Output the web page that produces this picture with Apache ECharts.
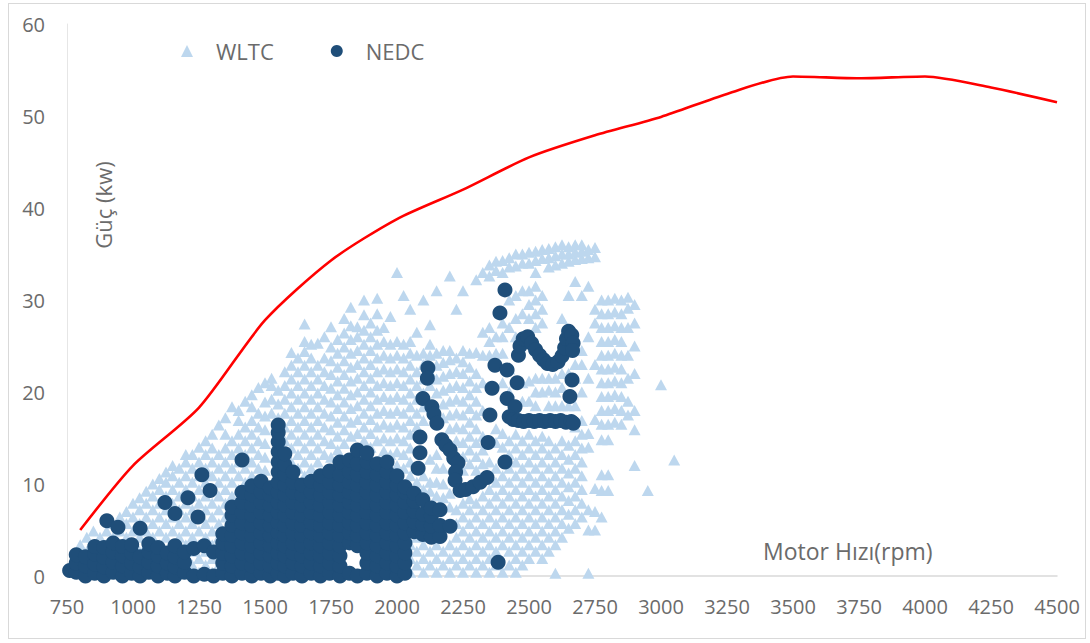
<!DOCTYPE html>
<html>
<head>
<meta charset="utf-8">
<script src="https://cdn.jsdelivr.net/npm/echarts@6/dist/echarts.min.js"></script>
<style>
  html, body { margin: 0; padding: 0; background: #fff; }
  #frame { position: absolute; left: 8px; top: 3px; width: 1078px; height: 636px; border: 1px solid #d9d9d9; box-sizing: border-box; }
  #chart { position: absolute; left: 0; top: 0; width: 1090px; height: 643px; }
</style>
</head>
<body>
<div id="frame"></div>
<div id="chart"></div>
<script>
// Full-load power curve of the engine (rpm, kW)
const maxPowerRpm = [800, 1000, 1250, 1500, 1750, 2000, 2250, 2500, 2750, 3000, 3250, 3500, 3750, 4000, 4250, 4500];
const maxPowerKw  = [5, 12, 18.3, 27.8, 34.3, 38.8, 42.0, 45.5, 47.9, 49.9, 52.4, 54.3, 54.1, 54.3, 53.1, 51.5];

// WLTC operating points, grouped by engine speed: [rpm, [kW, ...]]
const wltcColumns = [
  [800, [0.4, 1.9, 3.4]],
  [825, [1.2, 2.7, 4.2]],
  [850, [0.4, 1.9, 3.4, 4.9]],
  [875, [1.2, 2.7, 4.2]],
  [900, [0.4, 1.9, 3.4, 4.9]],
  [925, [1.2, 2.7, 4.2, 5.7]],
  [950, [0.4, 1.9, 3.4, 4.9, 6.4]],
  [975, [1.2, 2.7, 4.2, 5.7, 7.0]],
  [1000, [0.4, 1.9, 3.4, 4.9, 6.4, 7.9]],
  [1025, [1.2, 2.7, 4.2, 5.7, 7.2, 8.5]],
  [1050, [0.4, 1.9, 3.4, 4.9, 6.4, 7.9, 9.2]],
  [1075, [1.2, 2.7, 4.2, 5.7, 7.2, 8.7, 10]],
  [1100, [0.4, 1.9, 3.4, 4.9, 6.4, 7.9, 9.4, 10.6]],
  [1125, [1.2, 2.7, 4.2, 5.7, 7.2, 8.7, 10.2, 11.3]],
  [1150, [0.4, 1.9, 3.4, 4.9, 6.4, 7.9, 9.4, 10.9, 12]],
  [1175, [1.2, 2.7, 4.2, 5.7, 7.2, 8.7, 10.2, 11.7]],
  [1200, [0.4, 1.9, 3.4, 4.9, 6.4, 7.9, 9.4, 10.9, 12.4, 13.2]],
  [1225, [1.2, 2.7, 4.2, 5.7, 7.2, 8.7, 10.2, 11.7, 13.2]],
  [1250, [0.4, 1.9, 3.4, 4.9, 6.4, 7.9, 9.4, 10.9, 12.4, 14]],
  [1275, [1.2, 2.7, 4.2, 5.7, 7.2, 8.7, 10.2, 11.7, 13.2, 14.7]],
  [1300, [0.4, 1.9, 3.4, 4.9, 6.4, 7.9, 9.4, 10.9, 12.4, 13.9, 15.4]],
  [1325, [1.2, 2.7, 4.2, 5.7, 7.2, 8.7, 10.2, 11.7, 13.2, 16.4]],
  [1350, [6.4, 7.9, 9.4, 10.9, 12.4, 13.9, 15.4, 17.2]],
  [1375, [8.7, 10.2, 11.7, 13.2, 14.7, 18.4]],
  [1400, [9.4, 10.9, 12.4, 13.9, 15.4, 16.9, 18]],
  [1425, [10.2, 11.7, 13.2, 14.7, 16.2, 19]],
  [1450, [10.9, 12.4, 13.9, 15.4, 16.9, 18.4, 19.7]],
  [1475, [11.7, 13.2, 14.7, 16.2, 17.7, 20.5]],
  [1500, [11.5, 12.9, 14.4, 15.9, 17.4, 18.9, 21]],
  [1525, [17.7, 19.2, 20.7, 21.5]],
  [1550, [17.2, 18.7, 20.2]],
  [1575, [14.7, 16.2, 17.7, 19.2, 20.7, 22.2]],
  [1600, [12.4, 13.9, 15.4, 16.9, 18.4, 19.9, 21.4, 22.9, 24.3]],
  [1625, [11.7, 13.2, 14.7, 16.2, 17.7, 19.2, 20.7, 22.2, 23.7]],
  [1650, [10.9, 12.4, 13.9, 15.4, 16.9, 18.4, 19.9, 21.4, 22.9, 24.4, 25.5, 27.4]],
  [1675, [11.7, 13.2, 14.7, 16.2, 17.7, 19.2, 20.7, 22.2, 23.7, 25.2]],
  [1700, [12.4, 13.9, 15.4, 16.9, 18.4, 19.9, 21.4, 22.9, 25.3]],
  [1725, [13.2, 14.7, 16.2, 17.7, 19.2, 20.7, 22.2, 23.7, 26]],
  [1750, [12.9, 14.4, 15.9, 17.4, 18.9, 20.4, 21.9, 23.4, 24.9, 27.1]],
  [1775, [13.7, 15.2, 16.7, 18.2, 19.7, 21.2, 22.7, 24.2, 25.7]],
  [1800, [14.4, 15.9, 17.4, 18.9, 20.4, 21.9, 23.4, 24.9, 26.4, 28]],
  [1825, [15.2, 16.7, 18.2, 19.7, 21.2, 22.7, 24.2, 25.7, 27.2, 29.2]],
  [1850, [15.5, 17, 18.5, 20, 21.5, 23, 24.5, 26, 27.1]],
  [1875, [14.7, 16.2, 17.7, 19.2, 20.7, 22.2, 23.7, 25.2, 26.7, 28.4, 30]],
  [1900, [14, 15.5, 17, 18.5, 20, 21.5, 23, 24.5, 26, 27.5]],
  [1925, [14.7, 16.2, 17.7, 19.2, 20.7, 22.2, 23.7, 25.2, 26.7, 28.5, 30.2]],
  [1950, [13.6, 15, 16.5, 18, 19.5, 21, 22.5, 24, 25.5, 27]],
  [1975, [13.2, 14.7, 16.2, 17.7, 19.2, 20.7, 22.2, 23.7, 25.2, 28.2]],
  [2000, [12, 13.5, 15, 16.5, 18, 19.5, 21, 22.5, 24, 25.5, 33]],
  [2025, [11.7, 13.2, 14.7, 16.2, 17.7, 19.2, 20.7, 22.2, 23.7, 25.2, 30.5]],
  [2050, [0.4, 1.9, 3.4, 10.9, 12.4, 13.9, 15.4, 16.9, 18.4, 19.9, 21.4, 22.9, 24.2, 25.5, 29]],
  [2075, [1.2, 2.7, 4.2, 10.2, 11.7, 16.2, 17.7, 19.2, 20.7, 22.2, 24, 26.5]],
  [2100, [0.4, 1.9, 3.4, 9.4, 10.9, 16.9, 18.4, 19.9, 21.4, 23, 24.2, 30]],
  [2125, [1.2, 2.7, 4.2, 9.2, 10.2, 12.7, 20.7, 22.2, 24, 25.2, 27.3]],
  [2150, [0.4, 1.9, 3.4, 8.7, 10.2, 11.7, 13.2, 19.9, 21.4, 22.9, 24.2, 31]],
  [2175, [1.2, 2.7, 8.5, 10, 11.7, 17.2, 18.7, 20.2, 21.7, 23.2, 24.5]],
  [2200, [0.4, 1.9, 3.4, 7.5, 9, 16, 17.5, 19, 20.5, 22, 23.5, 24.5, 32.6]],
  [2225, [1.2, 2.7, 4.2, 5.7, 7.2, 14.7, 16.2, 17.7, 19.2, 20.7, 22.2, 23.7, 29]],
  [2250, [0.4, 1.9, 3.4, 4.9, 6.4, 7.9, 11.5, 13, 14.5, 16, 17.5, 19, 20.5, 22, 23.3, 24.5, 31]],
  [2275, [1.2, 2.7, 4.2, 5.7, 7.2, 8.4, 12.2, 13.7, 15.2, 16.7, 18.2, 19.7, 21.2, 22.7, 24.2]],
  [2300, [0.4, 1.9, 3.4, 4.9, 6.4, 7.9, 11.5, 13, 14.5, 16, 17.5, 19, 20.5, 22, 24.3, 32.2]],
  [2325, [1.2, 2.7, 4.2, 5.7, 7.2, 8.7, 12.2, 13.7, 15.2, 18, 21, 24, 26.5, 33]],
  [2350, [0.4, 1.9, 3.4, 4.9, 6.4, 7.9, 9.4, 10.9, 12.4, 24, 25.5, 27, 32.6, 33.8]],
  [2375, [1.2, 2.7, 4.2, 5.7, 7.2, 8.7, 10.2, 11.7, 14.5, 16, 24.2, 26, 33.2, 34.2]],
  [2400, [0.4, 3.4, 4.9, 6.4, 7.9, 9.4, 10.9, 14, 15.5, 21, 24.2, 26, 27.5, 33, 34.3]],
  [2425, [1.2, 2.7, 4.2, 5.7, 7.2, 8.7, 10.2, 11.7, 13.2, 14.7, 20, 22.5, 27, 30, 33.6, 34.6]],
  [2450, [0.4, 1.9, 3.4, 4.9, 6.4, 7.9, 9.4, 10.9, 12.4, 13.9, 15.4, 26, 28, 30.5, 33.7, 35]],
  [2475, [1.2, 2.7, 4.2, 5.7, 7.2, 8.7, 10.2, 11.7, 13.2, 14.7, 19, 21, 28.5, 31, 34, 35]],
  [2500, [1.9, 3.4, 4.9, 6.4, 7.9, 9.4, 10.9, 12.4, 13.9, 15.4, 19, 21.2, 28, 29.5, 31, 34, 35.2]],
  [2525, [2.7, 4.2, 5.7, 7.2, 8.7, 10.2, 11.7, 13.2, 14.7, 18.5, 20, 21.5, 27, 28.5, 30, 31.5, 33, 34.3, 35.3]],
  [2550, [1.9, 3.4, 4.9, 6.4, 7.9, 9.4, 10.9, 12.4, 13.9, 15.2, 20, 21.5, 27.5, 29, 30.5, 34.5, 35.5]],
  [2575, [2.7, 4.2, 5.7, 7.2, 8.7, 10.2, 11.7, 13.2, 14.7, 18.5, 20.2, 21.5, 33.6, 34.6, 35.6]],
  [2600, [0.3, 3.4, 4.9, 6.4, 7.9, 9.4, 10.9, 12.4, 13.9, 18.5, 20, 21.5, 33.8, 34.8, 35.8]],
  [2625, [4.2, 5.7, 7.2, 8.7, 10.2, 11.7, 13.2, 14.7, 18.5, 20.5, 22, 28, 34, 35, 36]],
  [2650, [5.2, 6.7, 8.2, 9.7, 11.2, 12.7, 14.2, 18.5, 22, 30.5, 34.2, 35, 35.8]],
  [2675, [5.7, 7.2, 8.7, 10.2, 11.7, 13.2, 14.7, 16.2, 18.5, 21.5, 23, 32, 34.4, 35.2, 36]],
  [2700, [6.4, 7.9, 9.4, 10.9, 12.4, 13.9, 15.4, 16.9, 20, 23, 24.5, 30.5, 34.5, 35.3, 36]],
  [2725, [0.3, 5, 7.2, 14, 15.5, 21.5, 26, 31.5, 34.6, 35.5]],
  [2750, [5, 7, 9.5, 17, 23, 27.5, 29, 34.7, 35.7]],
  [2775, [6.4, 9.3, 11, 14.8, 16.5, 18, 19.5, 21, 22.5, 24, 25.5, 27, 28.5, 30]],
  [2800, [9.3, 11, 14.8, 16.5, 18, 19.5, 21, 22.5, 24, 25.5, 27, 28.5, 30]],
  [2825, [16.7, 18.2, 19.7, 21.2, 22.7, 24.2, 25.7, 27.2, 28.7, 30.2]],
  [2850, [16.5, 18, 19.5, 21, 22.5, 24, 25.5, 27, 28.5, 30]],
  [2875, [17.5, 19, 21.5, 24, 27, 29.1, 30.3]],
  [2900, [12, 15.9, 18, 22, 25, 27.5, 29.5]],
  [2950, [9.3]],
  [3000, [20.8]],
  [3050, [12.6]]
];

// NEDC operating points, grouped by engine speed: [rpm, [kW, ...]]
const nedcColumns = [
  [760, [0.6]],
  [785, [0.4, 1.4, 2.3]],
  [820, [0, 1.1, 2.1]],
  [855, [0.3, 1.3, 2.4, 3.2]],
  [890, [0, 1, 2, 3.1]],
  [901, [6]],
  [925, [0.4, 1.5, 2.6, 3.6]],
  [943, [5.3]],
  [960, [0, 1.1, 2.2, 3.2]],
  [995, [0.3, 1.4, 2.5, 3.4]],
  [1027, [0, 1, 2.1, 5.2]],
  [1060, [0.4, 1.5, 2.6, 3.5]],
  [1095, [0, 1.1, 2.2, 3.1]],
  [1121, [8]],
  [1130, [0.3, 1.4, 2.5]],
  [1159, [0, 1, 2.1, 3.3, 6.8]],
  [1195, [0.4, 1.5, 2.6]],
  [1208, [8.5]],
  [1230, [0, 3]],
  [1246, [6.4]],
  [1261, [11]],
  [1270, [0.2, 3.3]],
  [1292, [9.3]],
  [1305, [0, 2.6]],
  [1340, [0.3, 1.4, 2.5, 3.6, 4.6]],
  [1375, [0, 1.1, 2.2, 3.3, 4.4, 5.5, 6.6, 7.5]],
  [1413, [0.3, 1.4, 2.5, 3.6, 4.7, 5.8, 6.9, 8, 9.1, 12.6]],
  [1450, [0, 1.1, 2.2, 3.3, 4.4, 5.5, 6.6, 7.7, 8.8, 9.8]],
  [1485, [0.3, 1.4, 2.5, 3.6, 4.7, 5.8, 6.9, 8, 9.1, 10.3]],
  [1520, [0, 1.1, 2.2, 3.3, 4.4, 5.5, 6.6, 7.7, 8.8, 9.6]],
  [1550, [0.3, 1.4, 2.5, 3.6, 4.7, 5.8, 6.9, 8, 9.1, 10.2, 11.3, 12.4, 13.5, 14.6, 15.6, 16.4]],
  [1575, [0, 1.1, 2.2, 3.3, 4.4, 5.5, 6.6, 7.7, 8.8, 9.9, 11, 12.1, 13.3]],
  [1606, [0.3, 1.4, 2.5, 3.6, 4.7, 5.8, 6.9, 8, 9.1, 10.2, 11.3]],
  [1640, [0, 1.1, 2.2, 3.3, 4.4, 5.5, 6.6, 7.7, 8.8, 9.9]],
  [1675, [0.3, 1.4, 2.5, 3.6, 4.7, 5.8, 6.9, 8, 9.1, 10.3]],
  [1710, [0, 1.1, 2.2, 3.3, 4.4, 5.5, 6.6, 7.7, 8.8, 9.9, 10.9]],
  [1745, [0.3, 1.4, 2.5, 3.6, 4.7, 5.8, 6.9, 8, 9.1, 10.2, 11.4]],
  [1784, [0, 1.1, 2.2, 3.3, 4.4, 5.5, 6.6, 7.7, 8.8, 9.9, 11, 12.4]],
  [1820, [0.3, 3.6, 4.7, 5.8, 6.9, 8, 9.1, 10.2, 11.3, 12.6]],
  [1850, [0, 3.3, 4.4, 5.5, 6.6, 7.7, 8.8, 9.9, 11, 12.2, 13.7]],
  [1886, [0.3, 1.4, 2.5, 3.6, 4.7, 5.8, 6.9, 8, 9.1, 10.2, 11.3, 12.4, 13.4]],
  [1925, [0, 1.1, 2.2, 3.3, 4.4, 5.5, 6.6, 7.7, 8.8, 9.9, 11, 12.2]],
  [1962, [0.3, 1.4, 2.5, 3.6, 4.7, 5.8, 6.9, 8, 9.1, 10.2, 11.3, 12.4]],
  [2000, [0, 1.1, 2.2, 3.3, 4.4, 5.5, 6.6, 7.7, 8.8, 9.9, 10.9]],
  [2030, [0.3, 1.4, 2.5, 3.6, 4.7, 5.8, 6.9, 8, 9.1, 9.7]],
  [2065, [4.8, 5.9, 7, 8.1, 9]],
  [2098, [4.5, 5.6, 6.7, 8.3]],
  [2130, [4.2, 5.4, 6.5, 7.4]],
  [2163, [4.3, 5.5, 7.2]],
  [2201, [5.4]]
];

// NEDC extra-urban transients, single points: [rpm, kW]
const nedcTrace = [
  [2117, 22.6], [2115, 21.5], [2098, 19.3], [2132, 18.4], [2140, 17.6], [2151, 16.6],
  [2087, 15.1], [2170, 14.8], [2087, 13.4], [2185, 14.2], [2201, 13.7], [2080, 11.7],
  [2215, 12.8], [2231, 12.3], [2222, 11.3], [2220, 10.4], [2239, 9.3], [2260, 9.4],
  [2288, 9.7], [2315, 10.2], [2341, 10.7],
  [2409, 31.1], [2390, 28.6], [2371, 22.9], [2417, 22.4], [2455, 21.0], [2360, 20.4],
  [2417, 19.3], [2447, 18.4], [2352, 17.5], [2345, 14.5], [2409, 12.4], [2383, 1.5],
  [2460, 24.0], [2466, 25.0], [2478, 25.8], [2495, 26.0], [2510, 25.3], [2525, 24.6],
  [2540, 24.0], [2555, 23.5], [2570, 23.1], [2590, 23.0], [2610, 23.3], [2625, 23.9],
  [2635, 24.8], [2642, 25.8], [2650, 26.6], [2662, 26.2], [2667, 25.3], [2665, 24.5],
  [2663, 21.3], [2655, 19.5],
  [2425, 17.3], [2440, 17.0], [2460, 16.9], [2480, 16.8], [2500, 16.9], [2520, 16.8],
  [2540, 16.9], [2560, 16.8], [2580, 16.9], [2600, 16.8], [2620, 16.9], [2640, 16.7],
  [2660, 16.8], [2668, 16.6]
];

const seriesNames = ['WLTC', 'NEDC'];
const xAxisName = 'Motor Hızı(rpm)';
const yAxisName = 'Güç (kw)';

function flatten(columns) {
  const out = [];
  columns.forEach(([rpm, values]) => values.forEach(kw => out.push([rpm, kw])));
  return out;
}

const wltcPoints = flatten(wltcColumns);
const nedcPoints = flatten(nedcColumns).concat(nedcTrace);
const maxPowerPoints = maxPowerRpm.map((r, i) => [r, maxPowerKw[i]]);

const FONT = '"Open Sans", Lato, sans-serif';
const TEXT_COLOR = '#6b6b6b';
const WLTC_COLOR = '#bdd7ee';
const NEDC_COLOR = '#1f4e79';

const chart = echarts.init(document.getElementById('chart'), null, { renderer: 'svg' });
chart.setOption({
  animation: false,
  backgroundColor: 'transparent',
  grid: { left: 67, right: 33, top: 24, bottom: 67, containLabel: false },
  legend: {
    left: 176, top: 35,
    itemWidth: 12, itemHeight: 12, itemGap: 57,
    textStyle: { fontFamily: FONT, fontSize: 22, color: TEXT_COLOR, padding: [0, 0, 0, 18] },
    data: [
      { name: seriesNames[0], icon: 'triangle' },
      { name: seriesNames[1], icon: 'circle' }
    ]
  },
  xAxis: {
    type: 'value', min: 750, max: 4500, interval: 250,
    axisLine: { show: true, lineStyle: { color: '#d9d9d9', width: 1.5 } },
    axisTick: { show: false },
    splitLine: { show: false },
    axisLabel: { fontFamily: FONT, fontSize: 20, color: TEXT_COLOR, margin: 20, formatter: v => String(v) }
  },
  yAxis: {
    type: 'value', min: 0, max: 60, interval: 10,
    axisLine: { show: true, lineStyle: { color: '#e6e6e6', width: 1 } },
    axisTick: { show: false },
    splitLine: { show: false },
    axisLabel: { fontFamily: FONT, fontSize: 20, color: TEXT_COLOR, margin: 22 }
  },
  graphic: [
    {
      type: 'text', x: 103, y: 205, rotation: Math.PI / 2,
      style: { text: yAxisName, fontFamily: FONT, fontSize: 22, fill: TEXT_COLOR, align: 'center', verticalAlign: 'middle' }
    },
    {
      type: 'text', x: 763, y: 551,
      style: { text: xAxisName, fontFamily: FONT, fontSize: 23, fill: TEXT_COLOR, align: 'left', verticalAlign: 'middle' }
    }
  ],
  series: [
    {
      name: seriesNames[0], type: 'scatter', symbol: 'triangle', symbolSize: [12, 11],
      itemStyle: { color: WLTC_COLOR, opacity: 1 },
      data: wltcPoints, z: 2
    },
    {
      name: seriesNames[1], type: 'scatter', symbol: 'circle', symbolSize: 15,
      itemStyle: { color: NEDC_COLOR, opacity: 1 },
      data: nedcPoints, z: 3
    },
    {
      name: 'Maks. güç', type: 'line', data: maxPowerPoints, smooth: 0.25,
      showSymbol: false, lineStyle: { color: '#ff0000', width: 2.6 }, z: 4
    }
  ]
});
</script>
</body>
</html>
